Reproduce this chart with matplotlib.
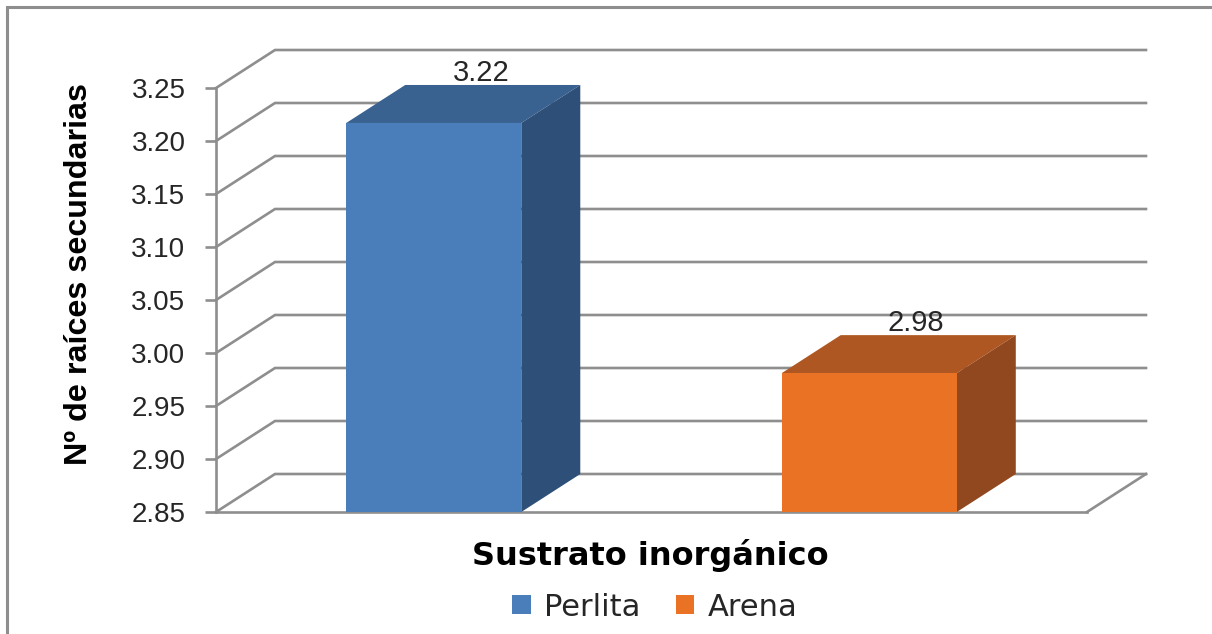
import matplotlib
matplotlib.use("Agg")
import matplotlib.pyplot as plt
from matplotlib.lines import Line2D
from matplotlib.patches import Patch, Polygon

categories = ["Perlita", "Arena"]
values = [3.217, 2.981]
tick_values = [2.85, 2.90, 2.95, 3.00, 3.05, 3.10, 3.15, 3.20, 3.25]
front_colors = ["#4A7EBB", "#E97225"]
top_colors = ["#3A6291", "#AE5722"]
side_colors = ["#2E5078", "#91481E"]
y_title = "Nº de raíces secundarias"
x_title = "Sustrato inorgánico"

W, H = 1212, 634
GREY = "#8E8E8E"
fig = plt.figure(figsize=(W / 100, H / 100), dpi=100, facecolor="white")
ax = fig.add_axes([216 / W, 1 - 512 / H, 871 / W, 424 / H])
ax.set_xlim(0, 2)
ax.set_ylim(tick_values[0], tick_values[-1])
ax.patch.set_visible(False)

depth_x = 59 / 435.5
depth_y = 38 / 1060
bar_width = 0.402
grid_lw = 1.9

# gridlines on back wall + slanted connectors on the side wall
for t in tick_values:
    ax.plot([0, depth_x, 2 + depth_x], [t, t + depth_y, t + depth_y], color=GREY,
            lw=grid_lw, clip_on=False, zorder=1, solid_joinstyle="miter")
# floor right edge
ax.plot([2, 2 + depth_x], [tick_values[0], tick_values[0] + depth_y], color=GREY,
        lw=grid_lw, clip_on=False, zorder=1)

base = tick_values[0]
for i, (cat, v) in enumerate(zip(categories, values)):
    c = i + 0.5
    l, r = c - bar_width / 2, c + bar_width / 2
    ax.bar(c, v - base, bar_width, bottom=base, color=front_colors[i], zorder=4, linewidth=0)
    ax.add_patch(Polygon([(l, v), (r, v), (r + depth_x, v + depth_y), (l + depth_x, v + depth_y)],
                         closed=True, facecolor=top_colors[i], edgecolor="none",
                         clip_on=False, zorder=3))
    ax.add_patch(Polygon([(r, base), (r, v), (r + depth_x, v + depth_y), (r + depth_x, base + depth_y)],
                         closed=True, facecolor=side_colors[i], edgecolor="none",
                         clip_on=False, zorder=3))
    ax.annotate(f"{v:.2f}", xy=(c + 0.108, v + depth_y), xytext=(0, 3), textcoords="offset points",
                ha="center", va="baseline", family="Liberation Sans", fontsize=21, color="#262626",
                zorder=5, annotation_clip=False)

for s in ("top", "right"):
    ax.spines[s].set_visible(False)
for s in ("left", "bottom"):
    ax.spines[s].set_color(GREY)
    ax.spines[s].set_linewidth(grid_lw)
    ax.spines[s].set_zorder(2)

ax.set_xticks([])
ax.set_yticks(tick_values)
ax.set_yticklabels([f"{t:.2f}" for t in tick_values], family="Liberation Sans", fontsize=20, color="#262626")
ax.tick_params(axis="y", length=8, width=grid_lw, color=GREY, pad=14)

fig.text(79 / W, 1 - 274 / H, y_title, rotation=90, ha="center", va="center",
         family="Liberation Sans", weight="bold", fontsize=23.2, color="black")
fig.text(650 / W, 1 - 555 / H, x_title, ha="center", va="center",
         family="DejaVu Sans", weight="bold", fontsize=23, color="black")

handles = [Patch(facecolor=c, edgecolor="none", label=n) for c, n in zip(front_colors, categories)]
fig.legend(handles=handles, loc="center", bbox_to_anchor=(655 / W, 1 - 607 / H), ncol=2, frameon=False,
           prop={"family": "DejaVu Sans", "size": 22}, handlelength=0.6, handleheight=0.6,
           handletextpad=0.45, columnspacing=1.15, labelcolor="#262626")

fig.add_artist(Line2D([7 / W, 7 / W, 1], [0, 1 - 7 / H, 1 - 7 / H], color=GREY, lw=2.2,
                      solid_joinstyle="miter"))

fig.savefig("out.png", dpi=100, facecolor="white")
